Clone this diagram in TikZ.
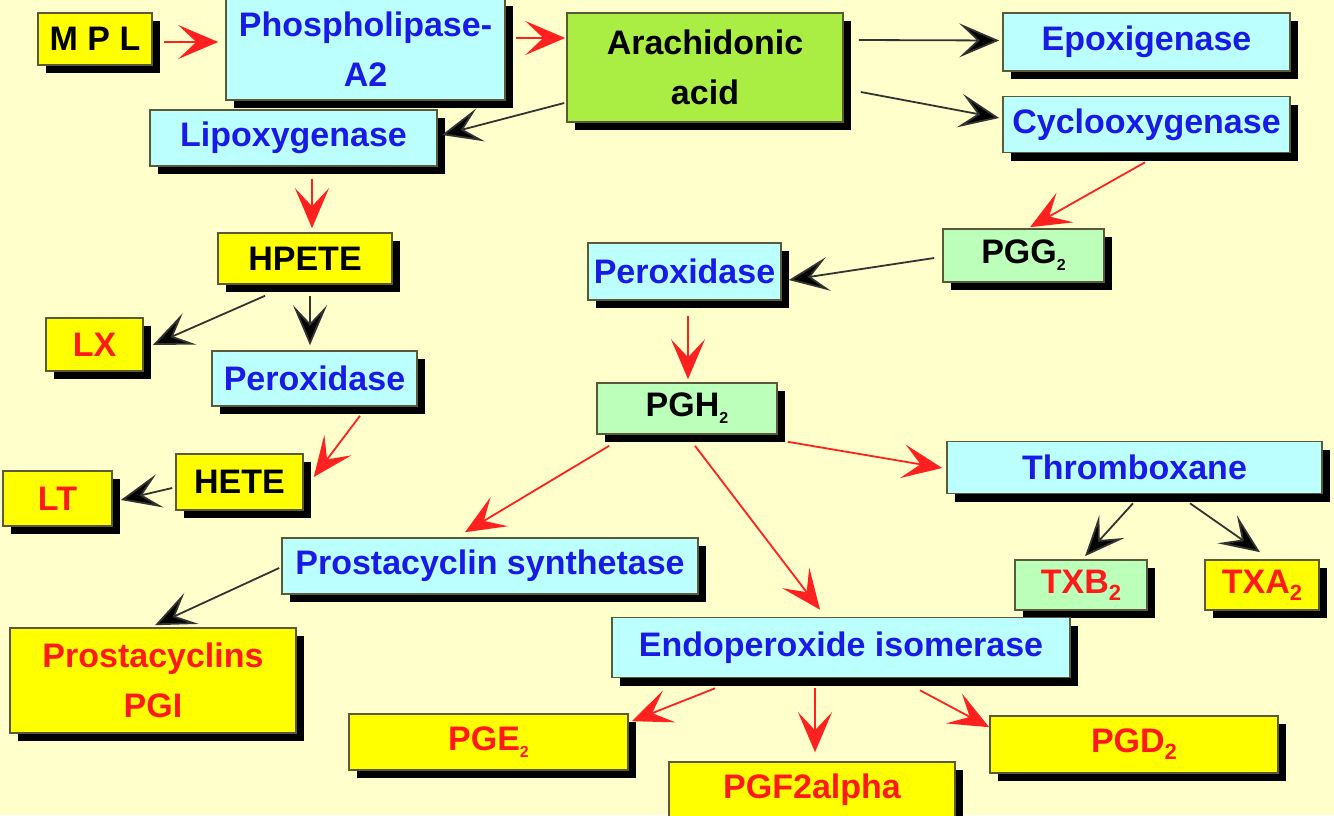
\documentclass[tikz,border=0pt]{standalone}
\usepackage{fontspec}
\setmainfont{Liberation Sans}
\usetikzlibrary{arrows.meta,shadows,calc}
\definecolor{bgc}{HTML}{FFFFCC}
\definecolor{bord}{HTML}{5A5A3A}
\definecolor{cyanb}{HTML}{BBFFFF}
\definecolor{greenb}{HTML}{BBFFBB}
\definecolor{limeb}{HTML}{AAEE44}
\definecolor{yellowb}{HTML}{FFFF00}
\definecolor{bluet}{HTML}{1A1AE6}
\definecolor{redt}{HTML}{FF1A1A}
\definecolor{redl}{HTML}{FF2020}
\definecolor{blackl}{HTML}{333333}
\newcommand{\lowsub}[1]{\raisebox{-0.4ex}{\fontsize{8}{8}\selectfont #1}}
\newcommand{\midsub}[1]{\raisebox{-0.4ex}{\fontsize{11}{11}\selectfont #1}}
\newcommand{\bx}[8]{\node[boxst,fill=#6,text=#7,minimum width=#4*0.5pt,minimum height=#5*0.5pt] (#1) at (#2,#3) {#8};}
\begin{document}
\begin{tikzpicture}[x=0.5pt,y=-0.5pt,
  boxst/.style={draw=bord,line width=0.8pt,inner sep=0pt,align=center,
    font=\fontsize{17}{25}\selectfont\bfseries,
    drop shadow={shadow xshift=4pt,shadow yshift=-4pt,fill=black,opacity=1}},
  rarr/.style={draw=redl,line width=0.9pt,-{Stealth[length=20pt,width=17pt,inset=9pt,fill=redl]}},
  karr/.style={draw=blackl,line width=0.9pt,-{Stealth[length=20pt,width=17pt,inset=9pt,fill=black]}}]
\useasboundingbox (0,0) rectangle (1334,815);
\fill[bgc] (0,0) rectangle (1334,815);
% boxes
\bx{mpl}{95}{39}{114}{52}{yellowb}{black}{M P L}
\bx{pla}{365.5}{49}{279}{102}{cyanb}{bluet}{Phospholipase-\\A2}
\bx{lipox}{293.5}{138}{287}{56}{cyanb}{bluet}{Lipoxygenase}
\bx{arach}{705}{67.5}{276}{109}{limeb}{black}{Arachidonic\\acid}
\bx{epox}{1146.5}{42}{287}{58}{cyanb}{bluet}{Epoxigenase}
\bx{cyclo}{1146.5}{124.5}{287}{56}{cyanb}{bluet}{Cyclooxygenase}
\bx{pgg}{1023.5}{255.5}{161}{53}{greenb}{black}{PGG\lowsub{2}}
\bx{perox}{684.5}{271.5}{193}{57}{cyanb}{bluet}{Peroxidase}
\bx{hpete}{305}{258.5}{174}{51}{yellowb}{black}{HPETE}
\bx{lx}{94.5}{344.5}{97}{53}{yellowb}{redt}{LX}
\bx{peroxl}{314.5}{378.5}{205}{55}{cyanb}{bluet}{Peroxidase}
\bx{hete}{239.5}{482}{127}{56}{yellowb}{black}{HETE}
\bx{lt}{57.5}{498.5}{109}{55}{yellowb}{redt}{LT}
\bx{pgh}{687}{408.5}{180}{51}{greenb}{black}{PGH\lowsub{2}}
\bx{thromb}{1134.5}{467.5}{375}{52}{cyanb}{bluet}{Thromboxane}
\bx{txb}{1081}{585}{132}{50}{greenb}{redt}{TXB\midsub{2}}
\bx{txa}{1262}{585}{114}{50}{yellowb}{redt}{TXA\midsub{2}}
\bx{prosyn}{490}{566}{416}{56}{cyanb}{bluet}{Prostacyclin synthetase}
\bx{prosta}{153}{680.5}{286}{105}{yellowb}{redt}{Prostacyclins\\PGI}
\bx{endo}{841}{647.5}{458}{60}{cyanb}{bluet}{Endoperoxide isomerase}
\bx{pge}{488.5}{742}{279}{56}{yellowb}{redt}{PGE\lowsub{2}}
\bx{pgf}{812}{790}{286}{56}{yellowb}{redt}{PGF2alpha}
\bx{pgd}{1134}{744.5}{288}{57}{yellowb}{redt}{PGD\midsub{2}}
% connectors
\draw[rarr] ($(mpl.east)+(11,3)$) -- ($(pla.west)+(-7,-7)$);
\draw[rarr] ($(pla.east)+(10,-11)$) -- ($(arach.west)+(-1,-29.5)$);
\draw[karr] ($(arach.east)+(15,-27.5)$) -- ($(epox.west)+(-3,-1.5)$);
\draw[karr] ($(arach.east)+(17,24.5)$) -- ($(cyclo.west)+(-3,-6.5)$);
\draw[karr] ($(arach.west)+(-2,35.5)$) -- ($(lipox.east)+(4,-3)$);
\draw[rarr] ($(lipox.south)+(18.5,12)$) -- ($(hpete.north)+(7,-4)$);
\draw[rarr] ($(cyclo.south)+(-1.5,9)$) -- ($(pgg.north)+(6.5,-1)$);
\draw[karr] ($(pgg.west)+(-8,2.5)$) -- ($(perox.east)+(7,8.5)$);
\draw[rarr] ($(perox.south)+(3.5,15)$) -- ($(pgh.north)+(1,-3)$);
\draw[karr] ($(hpete.south)+(-40,11)$) -- ($(lx.east)+(9,0.5)$);
\draw[karr] ($(hpete.south)+(5,11)$) -- ($(peroxl.north)+(-4.5,-5)$);
\draw[rarr] ($(peroxl.south)+(45.5,9)$) -- ($(hete.east)+(10,-5)$);
\draw[karr] ($(hete.west)+(-3,6)$) -- ($(lt.east)+(8,1.5)$);
\draw[rarr] ($(pgh.south east)+(10,7)$) -- ($(thromb.west)+(-4,0.5)$);
\draw[rarr] ($(pgh.south west)+(13,11)$) -- ($(prosyn.north)+(-25,-5)$);
\draw[rarr] ($(pgh.south)+(8,11)$) -- ($(endo.north)+(-21,-7)$);
\draw[karr] ($(prosyn.west)+(-2,2)$) -- ($(prosta.north)+(2,-2)$);
\draw[karr] ($(thromb.south)+(-1.5,9)$) -- ($(txb.north)+(4,-3)$);
\draw[karr] ($(thromb.south)+(55.5,9)$) -- ($(txa.north)+(-2,-7)$);
\draw[rarr] ($(endo.south)+(-126,10)$) -- ($(pge.north east)+(3,8)$);
\draw[rarr] ($(endo.south)+(-26,10)$) -- ($(pgf.north)+(3,-9)$);
\draw[rarr] ($(endo.south)+(79,12)$) -- ($(pgd.north west)+(0,12)$);
\end{tikzpicture}
\end{document}
